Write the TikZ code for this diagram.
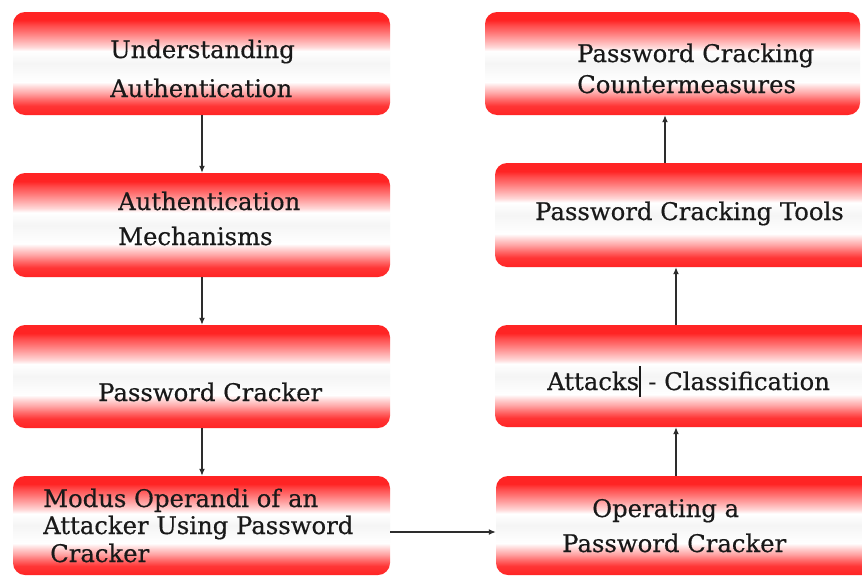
\documentclass[tikz,border=0pt]{standalone}
\usepackage{fontspec}
\newfontfamily\serf[FakeBold=0.45]{DejaVu Serif}
\usetikzlibrary{arrows.meta}
\definecolor{tred}{RGB}{255,36,36}
\definecolor{txt}{RGB}{25,25,25}
\definecolor{arrc}{RGB}{45,45,45}
\pgfdeclareverticalshading{tube}{100bp}{
 color(0bp)=(tred); color(25bp)=(tred); color(29.5bp)=(tred!92!white); color(32.5bp)=(tred!68!white);
 color(35.5bp)=(tred!42!white); color(38.5bp)=(tred!20!white); color(41bp)=(white);
 color(50bp)=(black!4!white); color(56bp)=(white); color(58bp)=(tred!18!white);
 color(61.5bp)=(tred!40!white); color(65.5bp)=(tred!65!white); color(68.5bp)=(tred!82!white);
 color(71bp)=(tred); color(75bp)=(tred); color(100bp)=(tred)}
\begin{document}
\begin{tikzpicture}[x=1pt,y=-1pt,
  box/.style={shade, shading=tube, rounded corners=12pt, inner sep=0pt, draw=none},
  lbl/.style={anchor=base west, inner sep=0pt, text=txt, font=\serf\fontsize{24.3}{30}\selectfont},
  link/.style={draw=arrc, line width=1.3pt, -{Latex[length=7pt,width=6pt]}}]
\useasboundingbox (0,0) rectangle (862,576);
\fill[white] (0,0) rectangle (862,576);
% boxes
\node[box, minimum width=377pt, minimum height=103pt] (L1) at (201.5,63.5) {};
\node[box, minimum width=377pt, minimum height=104pt] (L2) at (201.5,225) {};
\node[box, minimum width=377pt, minimum height=103pt] (L3) at (201.5,376.5) {};
\node[box, minimum width=377pt, minimum height=99pt] (L4) at (201.5,525.5) {};
\node[box, minimum width=375pt, minimum height=103pt] (R1) at (672.5,63.5) {};
\node[box, minimum width=380pt, minimum height=104pt] (R2) at (685,215) {};
\node[box, minimum width=380pt, minimum height=102pt] (R3) at (685,376) {};
\node[box, minimum width=379pt, minimum height=99pt] (R4) at (685.5,525.5) {};
% texts
\node[lbl] (t1a) at (110,58) {Understanding};
\node[lbl] (t1b) at (110,97) {Authentication};
\node[lbl] (t2a) at (118,210) {Authentication};
\node[lbl] (t2b) at (118,245) {Mechanisms};
\node[lbl] (t3a) at (98,401) {Password Cracker};
\node[lbl] (t4a) at (43,507) {Modus Operandi of an};
\node[lbl] (t4b) at (43,534) {Attacker Using Password};
\node[lbl] (t4c) at (50,562) {Cracker};
\node[lbl] (r1a) at (577,62) {Password Cracking};
\node[lbl] (r1b) at (577,93) {Countermeasures};
\node[lbl] (r2a) at (535,220) {Password Cracking Tools};
\node[lbl] (r3a) at (547,390) {Attacks\rule[-7pt]{1.4pt}{31pt} - Classification};
\node[lbl] (r4a) at (592,517) {Operating a};
\node[lbl] (r4b) at (562,552) {Password Cracker};
% connectors
\coordinate (cL) at (202,0);
\coordinate (cR) at (676,0);
\coordinate (cR2) at (665,0);
\coordinate (cH) at (0,532);
\draw[link] (L1.south -| cL) -- (L2.north -| cL);
\draw[link] (L2.south -| cL) -- (L3.north -| cL);
\draw[link] (L3.south -| cL) -- (L4.north -| cL);
\draw[link] (L4.east |- cH) -- (R4.west |- cH);
\draw[link] (R4.north -| cR) -- (R3.south -| cR);
\draw[link] (R3.north -| cR) -- (R2.south -| cR);
\draw[link] (R2.north -| cR2) -- (R1.south -| cR2);
\end{tikzpicture}
\end{document}
